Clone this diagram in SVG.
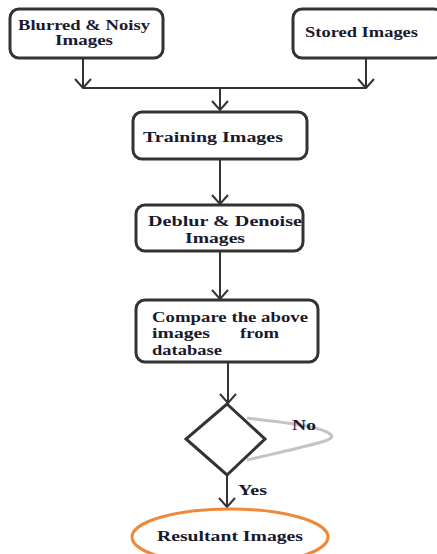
<svg xmlns="http://www.w3.org/2000/svg" width="437" height="554" viewBox="0 0 437 554">
<defs>
<style>
.box{fill:#fff;stroke:#333;stroke-width:3}
.ln{fill:none;stroke:#333;stroke-width:2}
.t{font-family:"Liberation Serif","Times New Roman",serif;font-weight:bold;font-size:15px;fill:#1a1a2e}
</style>
<marker id="ah" markerUnits="userSpaceOnUse" markerWidth="12" markerHeight="18" refX="11" refY="9" orient="auto" viewBox="0 0 12 18">
<path d="M2,1 L11,9 L2,17" fill="none" stroke="#333" stroke-width="2"/>
</marker>
</defs>
<rect width="437" height="554" fill="#fff"/>
<g id="connectors">
<line class="ln" x1="83" y1="58" x2="83" y2="88" marker-end="url(#ah)"/>
<line class="ln" x1="366" y1="58" x2="366" y2="88" marker-end="url(#ah)"/>
<line class="ln" x1="83" y1="88" x2="366" y2="88"/>
<line class="ln" x1="220" y1="88" x2="220" y2="110" marker-end="url(#ah)"/>
<line class="ln" x1="220" y1="159" x2="220" y2="204" marker-end="url(#ah)"/>
<line class="ln" x1="220" y1="251" x2="220" y2="299" marker-end="url(#ah)"/>
<line class="ln" x1="228" y1="362" x2="228" y2="403" marker-end="url(#ah)"/>
<line class="ln" x1="227" y1="475" x2="227" y2="507" marker-end="url(#ah)"/>
<path d="M247,418 C280,422 320,426 330,434 C338,440 320,443 247,460" fill="none" stroke="#c4c4c4" stroke-width="3"/>
</g>
<g id="n1">
<rect class="box" x="10" y="9" width="153" height="49" rx="9"/>
<text class="t" x="18" y="30" textLength="132" lengthAdjust="spacingAndGlyphs">Blurred &amp; Noisy</text>
<text class="t" x="55" y="45" textLength="58" lengthAdjust="spacingAndGlyphs">Images</text>
</g>
<g id="n2">
<rect class="box" x="293" y="9" width="150" height="49" rx="9"/>
<text class="t" x="305" y="37" textLength="113" lengthAdjust="spacingAndGlyphs">Stored Images</text>
</g>
<g id="n3">
<rect class="box" x="133" y="112" width="174" height="47" rx="9"/>
<text class="t" x="143" y="142" textLength="140" lengthAdjust="spacingAndGlyphs">Training Images</text>
</g>
<g id="n4">
<rect class="box" x="136" y="205" width="167" height="46" rx="9"/>
<text class="t" x="148" y="226" textLength="154" lengthAdjust="spacingAndGlyphs">Deblur &amp; Denoise</text>
<text class="t" x="185" y="243" textLength="60" lengthAdjust="spacingAndGlyphs">Images</text>
</g>
<g id="n5">
<rect class="box" x="136" y="300" width="182" height="62" rx="9"/>
<text class="t" x="152" y="322" textLength="156" lengthAdjust="spacingAndGlyphs">Compare the above</text>
<text class="t" x="152" y="338" textLength="58" lengthAdjust="spacingAndGlyphs">images</text>
<text class="t" x="240" y="338" textLength="39" lengthAdjust="spacingAndGlyphs">from</text>
<text class="t" x="152" y="355" textLength="70" lengthAdjust="spacingAndGlyphs">database</text>
</g>
<g id="n6">
<polygon points="227,404 265,439 227,475 186,439" fill="#fff" stroke="#333" stroke-width="3"/>
</g>
<g id="labels">
<text class="t" x="292" y="430" textLength="24" lengthAdjust="spacingAndGlyphs">No</text>
<text class="t" x="238" y="495" textLength="29" lengthAdjust="spacingAndGlyphs">Yes</text>
</g>
<g id="n7">
<ellipse cx="230" cy="537" rx="98" ry="28" fill="#fff" stroke="#f0883a" stroke-width="3"/>
<text class="t" x="157" y="541" textLength="146" lengthAdjust="spacingAndGlyphs">Resultant Images</text>
</g>
</svg>
